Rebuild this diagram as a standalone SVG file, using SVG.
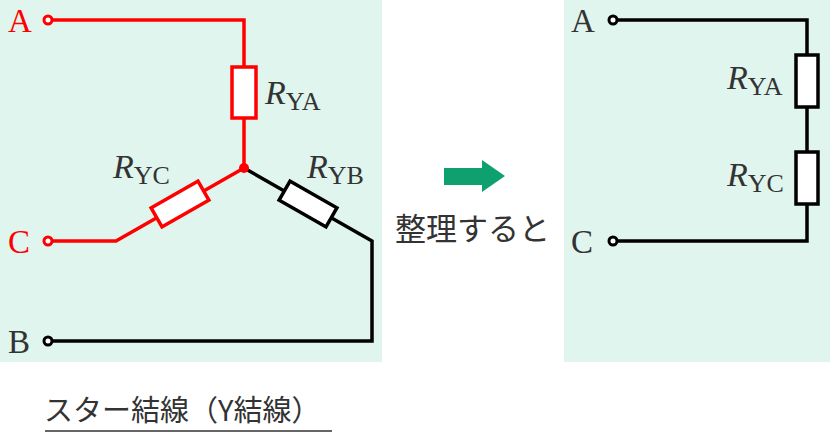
<svg xmlns="http://www.w3.org/2000/svg" width="830" height="440" viewBox="0 0 830 440">
<style>
.bg{fill:#e0f5ee}
.w{fill:none;stroke-width:3.5;stroke-linejoin:miter}
.r{stroke:#ff0000}.k{stroke:#000}
.res{fill:#fff;stroke-width:3.5}
.term{fill:#fff;stroke-width:3}
text{font-family:"Liberation Serif",serif}
.jp{font-family:"Noto Sans CJK JP",sans-serif;fill:#333}
</style>
<rect class="bg" x="0" y="0" width="382" height="362"/>
<rect class="bg" x="564" y="0" width="266" height="362"/>
<g id="connectors">
<polyline class="w r" points="48,20 244,20 244,168"/>
<polyline class="w r" points="48,241 116,241 244,168"/>
<polyline class="w k" points="244,168 372,241 372,341 48,341"/>
<polyline class="w k" points="613,20 807,20 807,241 613,241"/>
</g>
<g id="RYA"><rect class="res r" x="232" y="67" width="24" height="51"/>
<text x="265" y="104" fill="#333" font-size="34"><tspan font-style="italic">R</tspan><tspan font-size="26" dy="6">YA</tspan></text></g>
<g id="RYC"><rect class="res r" x="-27" y="-11" width="54" height="22" transform="translate(180,204) rotate(-29.7)"/>
<text x="113" y="178" fill="#333" font-size="34"><tspan font-style="italic">R</tspan><tspan font-size="26" dy="6">YC</tspan></text></g>
<g id="RYB"><rect class="res k" x="-27" y="-11" width="54" height="22" transform="translate(308,204) rotate(29.7)"/>
<text x="307" y="178" fill="#333" font-size="34"><tspan font-style="italic">R</tspan><tspan font-size="26" dy="6">YB</tspan></text></g>
<g id="junction"><circle cx="244" cy="168" r="5" fill="#ff0000"/></g>
<g id="termA"><circle class="term r" cx="48" cy="20" r="4"/><text x="8" y="32" font-size="33" fill="#ff0000">A</text></g>
<g id="termC"><circle class="term r" cx="48" cy="241" r="4"/><text x="8" y="253" font-size="33" fill="#ff0000">C</text></g>
<g id="termB"><circle class="term k" cx="48" cy="341" r="4"/><text x="8" y="353" font-size="33" fill="#333">B</text></g>
<g id="RYA2"><rect class="res k" x="796" y="55" width="22" height="52"/>
<text x="727" y="89" fill="#333" font-size="34"><tspan font-style="italic">R</tspan><tspan font-size="26" dy="6">YA</tspan></text></g>
<g id="RYC2"><rect class="res k" x="796" y="152" width="22" height="52"/>
<text x="727" y="186" fill="#333" font-size="34"><tspan font-style="italic">R</tspan><tspan font-size="26" dy="6">YC</tspan></text></g>
<g id="termA2"><circle class="term k" cx="613" cy="20" r="4"/><text x="571" y="32" font-size="33" fill="#333">A</text></g>
<g id="termC2"><circle class="term k" cx="613" cy="241" r="4"/><text x="571" y="253" font-size="33" fill="#333">C</text></g>
<g id="arrow"><polygon points="444,168 482,168 482,160 505,176 482,192 482,185 444,185" fill="#0fa070"/></g>
<text class="jp" x="395" y="240" font-size="31">整理すると</text>
<g id="title"><text class="jp" x="44" y="421" font-size="29">スター結線（Y結線）</text>
<line x1="45" y1="431" x2="332" y2="431" stroke="#333" stroke-width="1.5"/></g>
</svg>
